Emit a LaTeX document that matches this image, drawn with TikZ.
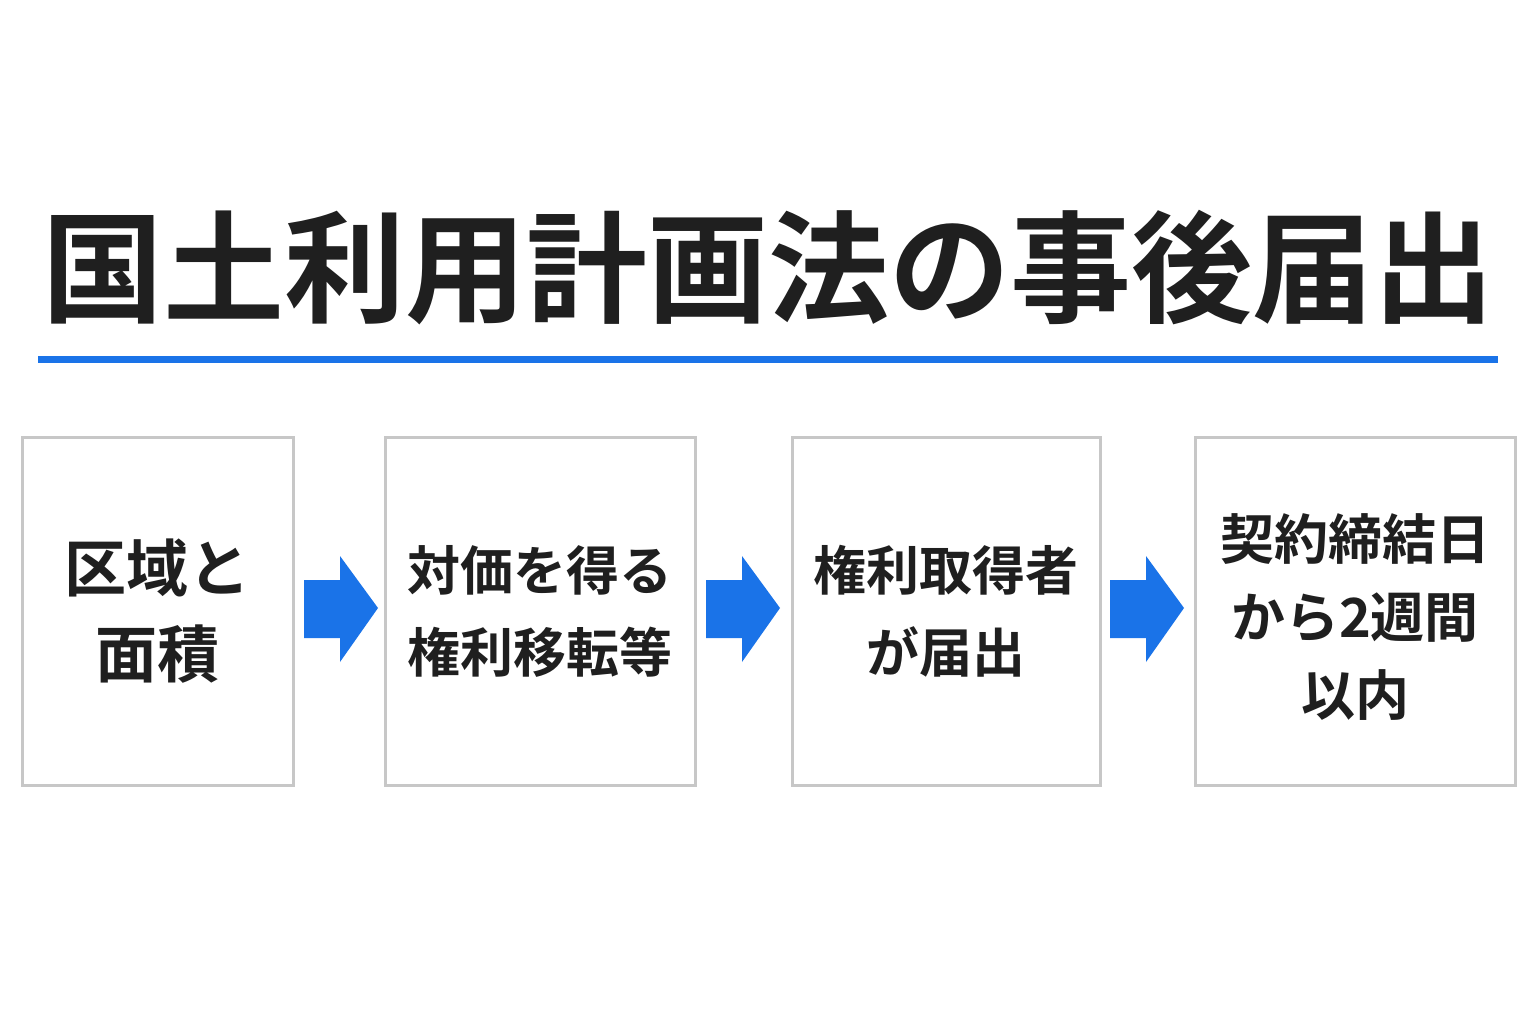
\documentclass[tikz,border=0pt]{standalone}
\usepackage{fontspec}
\newfontfamily\jpb{Noto Sans CJK JP Bold}
\begin{document}
\begin{tikzpicture}[x=1pt,y=-1pt,
  box/.style={draw=black!22,line width=3pt,fill=white},
  lbl/.style={font=\jpb, text=black!88, align=center},
  arr/.style={fill=blue1}]
\definecolor{blue1}{HTML}{1A73E8}
\useasboundingbox[fill=white] (0,0) rectangle (1536,1024);
\node[lbl,font=\jpb\fontsize{121}{125}\selectfont] (title) at (768,268) {国土利用計画法の事後届出};
\coordinate (l1) at (38,359); \coordinate (l2) at (1498,359);
\draw[blue1,line width=7pt] (l1) -- (l2);
\draw[box] (22,437) rectangle (293,785); \coordinate (b1) at (157.5,611);
\draw[box] (385,437) rectangle (695,785); \coordinate (b2) at (540,611);
\draw[box] (792,437) rectangle (1100,785); \coordinate (b3) at (946,611);
\draw[box] (1195,437) rectangle (1515,785); \coordinate (b4) at (1355,611);
\node[lbl,font=\jpb\fontsize{62}{86}\selectfont] (t1) at (b1) {区域と\\面積};
\node[lbl,font=\jpb\fontsize{53}{82}\selectfont] (t2) at (b2) {対価を得る\\権利移転等};
\node[lbl,font=\jpb\fontsize{53}{82}\selectfont] (t3) at (b3) {権利取得者\\が届出};
\node[lbl,font=\jpb\fontsize{54}{78}\selectfont] (t4) at (1355,617) {契約締結日\\から2週間\\以内};
\foreach \x in {304,706,1110}{
  \fill[arr] (\x,580) -- ++(36,0) -- ++(0,-24) -- ++(38,52) -- ++(-38,54) -- ++(0,-24) -- ++(-36,0) -- cycle;}
\end{tikzpicture}
\end{document}
